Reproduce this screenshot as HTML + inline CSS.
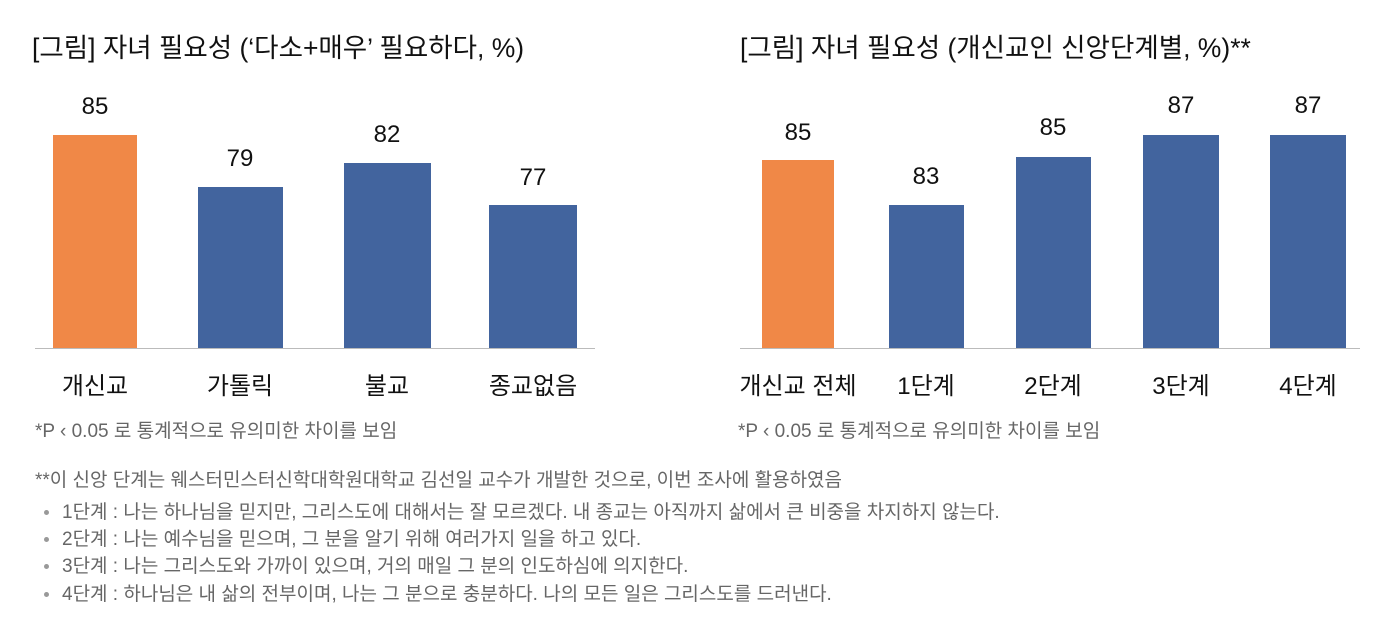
<!DOCTYPE html>
<html><head><meta charset="utf-8"><style>
body{margin:0;width:1392px;height:628px;background:#fff;position:relative;overflow:hidden;font-family:"Liberation Sans","Noto Sans CJK KR",sans-serif;color:#111}
.a{position:absolute;white-space:nowrap}
.t{font-size:26.5px;top:26px;letter-spacing:0px}
.b{position:absolute}
.o{background:#F08847}.u{background:#42649E}
.v{position:absolute;font-size:24px;text-align:center;width:120px}
.c{position:absolute;font-size:24px;text-align:center;width:160px;top:366px}
.n{font-size:19px;color:#666;letter-spacing:0px}
.ln{position:absolute;height:1px;background:#bbb;top:348px}
.d{position:absolute;left:44px;width:5px;height:5px;border-radius:50%;background:#999}
</style></head><body>
<div class="a t" style="left:32px">[그림] 자녀 필요성 (‘다소+매우’ 필요하다, %)</div>
<div class="a t" style="left:740px">[그림] 자녀 필요성 (개신교인 신앙단계별, %)**</div>

<div class="b o" style="left:53px;top:135px;width:84px;height:213px"></div>
<div class="b u" style="left:198px;top:187px;width:85px;height:161px"></div>
<div class="b u" style="left:344px;top:163px;width:87px;height:185px"></div>
<div class="b u" style="left:489px;top:205px;width:88px;height:143px"></div>
<div class="ln" style="left:35px;width:560px"></div>
<div class="v" style="left:35px;top:93px">85</div>
<div class="v" style="left:180px;top:145px">79</div>
<div class="v" style="left:327px;top:121px">82</div>
<div class="v" style="left:473px;top:164px">77</div>
<div class="c" style="left:15px">개신교</div>
<div class="c" style="left:160px">가톨릭</div>
<div class="c" style="left:307px">불교</div>
<div class="c" style="left:453px">종교없음</div>

<div class="b o" style="left:762px;top:160px;width:72px;height:188px"></div>
<div class="b u" style="left:889px;top:205px;width:75px;height:143px"></div>
<div class="b u" style="left:1016px;top:157px;width:75px;height:191px"></div>
<div class="b u" style="left:1143px;top:135px;width:76px;height:213px"></div>
<div class="b u" style="left:1270px;top:135px;width:76px;height:213px"></div>
<div class="ln" style="left:740px;width:620px"></div>
<div class="v" style="left:738px;top:119px">85</div>
<div class="v" style="left:866px;top:163px">83</div>
<div class="v" style="left:993px;top:114px">85</div>
<div class="v" style="left:1121px;top:92px">87</div>
<div class="v" style="left:1248px;top:92px">87</div>
<div class="c" style="left:718px">개신교 전체</div>
<div class="c" style="left:846px">1단계</div>
<div class="c" style="left:973px">2단계</div>
<div class="c" style="left:1101px">3단계</div>
<div class="c" style="left:1228px">4단계</div>

<div class="a n" style="left:35px;top:416px">*P ‹ 0.05 로 통계적으로 유의미한 차이를 보임</div>
<div class="a n" style="left:738px;top:416px">*P ‹ 0.05 로 통계적으로 유의미한 차이를 보임</div>
<div class="a n" style="left:35px;top:465px">**이 신앙 단계는 웨스터민스터신학대학원대학교 김선일 교수가 개발한 것으로, 이번 조사에 활용하였음</div>
<div class="d" style="top:510px"></div><div class="a n" style="left:62px;top:497px">1단계 : 나는 하나님을 믿지만, 그리스도에 대해서는 잘 모르겠다. 내 종교는 아직까지 삶에서 큰 비중을 차지하지 않는다.</div>
<div class="d" style="top:537px"></div><div class="a n" style="left:62px;top:524px">2단계 : 나는 예수님을 믿으며, 그 분을 알기 위해 여러가지 일을 하고 있다.</div>
<div class="d" style="top:564px"></div><div class="a n" style="left:62px;top:551px">3단계 : 나는 그리스도와 가까이 있으며, 거의 매일 그 분의 인도하심에 의지한다.</div>
<div class="d" style="top:592px"></div><div class="a n" style="left:62px;top:579px">4단계 : 하나님은 내 삶의 전부이며, 나는 그 분으로 충분하다. 나의 모든 일은 그리스도를 드러낸다.</div>
</body></html>
